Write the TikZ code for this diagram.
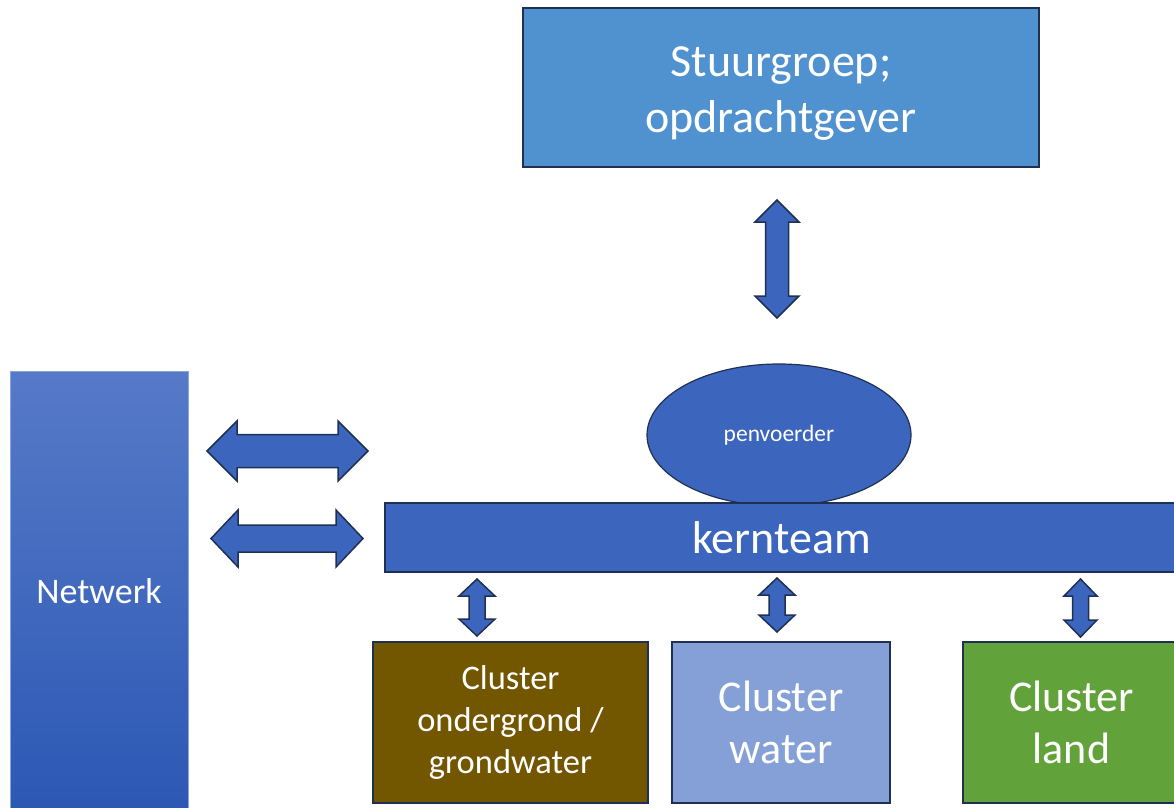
\documentclass[tikz,border=0pt]{standalone}
\usepackage{fontspec}
\setmainfont{Carlito}
\usetikzlibrary{shapes.geometric}

\definecolor{edgeblue}{RGB}{32,48,82}
\definecolor{stuurblue}{RGB}{80,145,208}
\definecolor{kernblue}{RGB}{60,101,190}
\definecolor{nettop}{RGB}{86,122,200}
\definecolor{netbottom}{RGB}{44,88,180}
\definecolor{netedge}{RGB}{135,165,222}
\definecolor{clbrown}{RGB}{115,86,0}
\definecolor{clwater}{RGB}{132,160,214}
\definecolor{clland}{RGB}{98,162,58}

% block double arrow: centre, angle, half length, half shaft, half head, head length
\newcommand\dblarrow[6]{%
  \draw[blockarrow, shift={#1}, rotate=#2]
    (-#3,0) -- (-#3+#6,#5) -- (-#3+#6,#4) -- (#3-#6,#4) -- (#3-#6,#5) -- (#3,0)
    -- (#3-#6,-#5) -- (#3-#6,-#4) -- (-#3+#6,-#4) -- (-#3+#6,-#5) -- cycle;}

\begin{document}
\begin{tikzpicture}[x=1pt, y=-1pt,
    box/.style={draw=edgeblue, line width=1.5pt, text=white, align=center, inner sep=0pt},
    blockarrow/.style={draw=edgeblue, line width=1.5pt, fill=kernblue, line join=miter}]
  \useasboundingbox (0,0) rectangle (1174,807);
  \clip (0,0) rectangle (1174,807);

  \node[box, fill=stuurblue, minimum width=516pt, minimum height=159pt,
        label={[text=white, align=center, yshift=-6pt, font=\fontsize{46}{56}\selectfont]center:Stuurgroep;\\opdrachtgever}]
        (stuur) at (781,87.5) {};

  \node[text=white, inner sep=0pt, draw=netedge, line width=1pt, top color=nettop, bottom color=netbottom,
        minimum width=178pt, minimum height=441pt, font=\fontsize{36}{42}\selectfont] (netwerk) at (99,591.5) {Netwerk};

  \node[box, ellipse, fill=kernblue, line width=1.2pt, minimum width=264pt, minimum height=142pt,
        font=\fontsize{23.5}{28}\selectfont] (penv) at (779,435) {\raisebox{-4pt}{penvoerder}};
  \node[box, fill=kernblue, minimum width=793pt, minimum height=69pt,
        font=\fontsize{46}{52}\selectfont] (kern) at (781.5,537.5) {kernteam};

  \node[box, fill=clbrown, minimum width=275pt, minimum height=161pt,
        font=\fontsize{34.5}{42}\selectfont] (ondergrond) at (510.5,722.5) {Cluster\\ondergrond /\\grondwater};
  \node[box, fill=clwater, minimum width=218pt, minimum height=161pt,
        font=\fontsize{44}{52}\selectfont] (water) at (781,722.5) {Cluster\\water};
  \node[box, fill=clland, minimum width=217pt, minimum height=161pt,
        font=\fontsize{44}{52}\selectfont] (land) at (1071.5,722.5) {Cluster\\land};

  \dblarrow{(777,259)}{90}{59}{11.5}{22}{22}
  \dblarrow{(287.5,451)}{0}{80.5}{16.5}{30}{30}
  \dblarrow{(287,538.5)}{0}{76}{13.5}{28.5}{27}
  \dblarrow{(477,607.5)}{90}{28.5}{8}{18}{17}
  \dblarrow{(777,605)}{90}{27}{8}{18}{17}
  \dblarrow{(1080.5,608)}{90}{29}{8}{16.5}{17}
\end{tikzpicture}
\end{document}
